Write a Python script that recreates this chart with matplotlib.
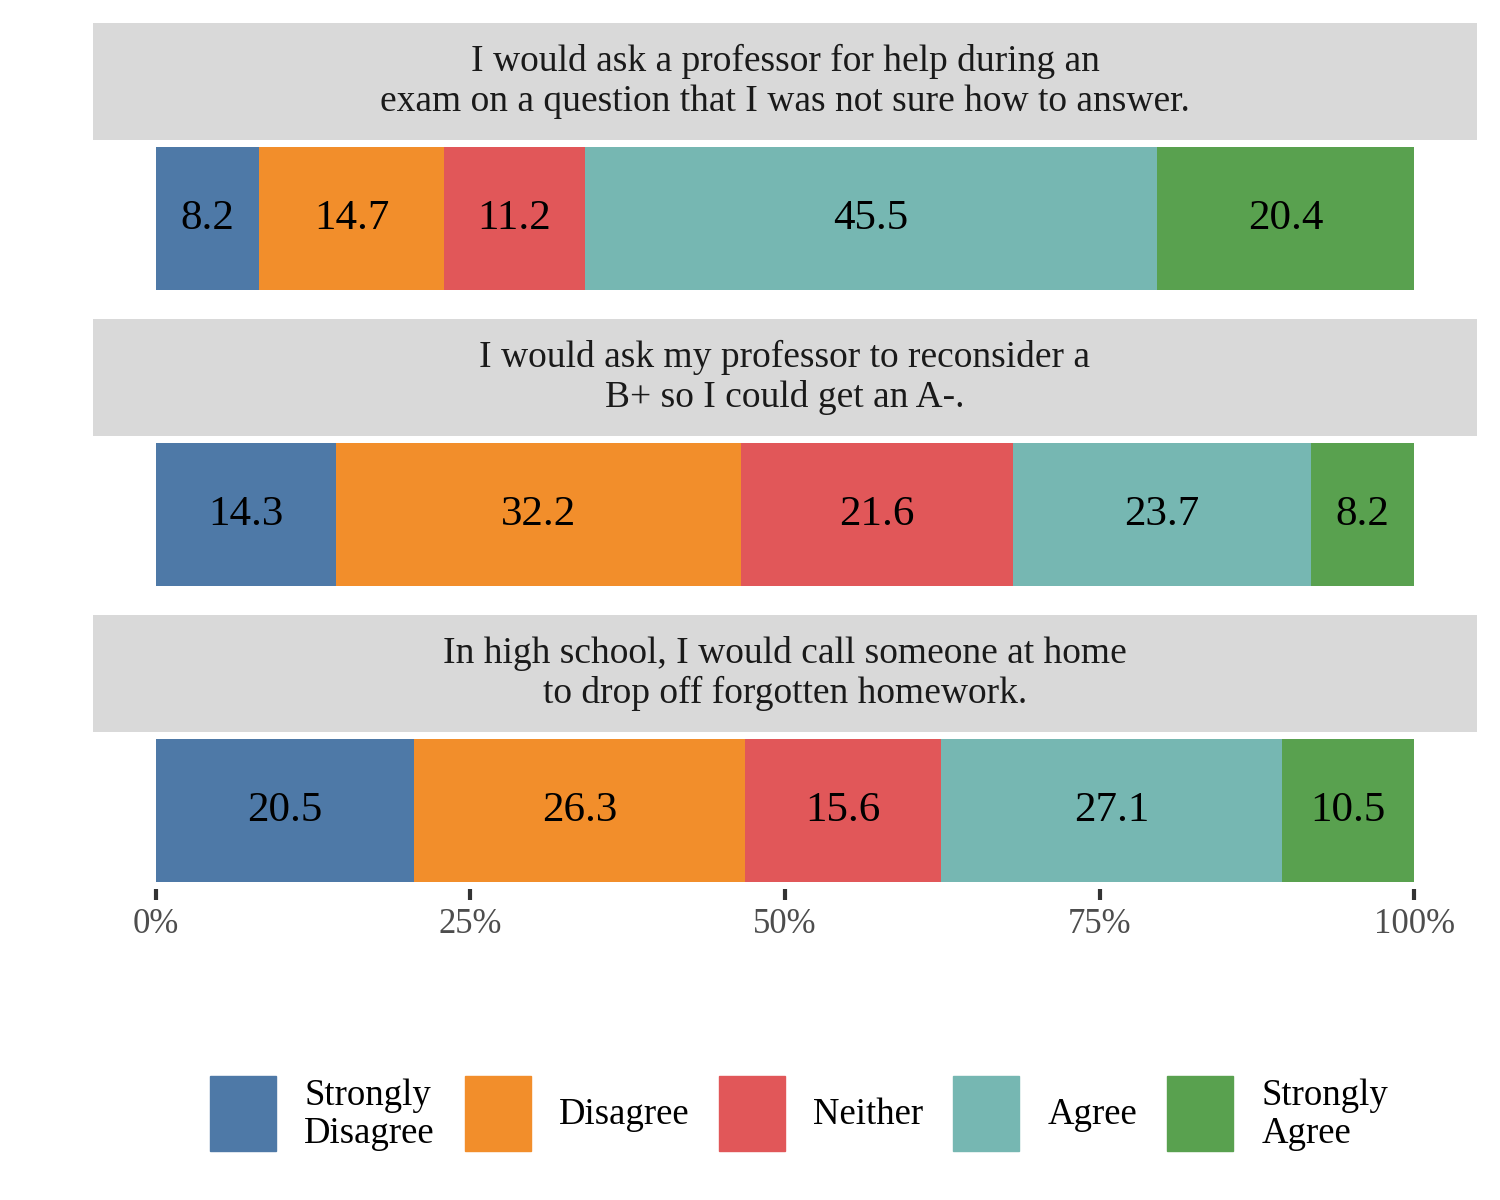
import numpy as np
import matplotlib
matplotlib.use('Agg')
import matplotlib.pyplot as plt
from matplotlib.patches import Rectangle

plt.rcParams['font.family'] = ['Liberation Serif', 'DejaVu Serif']

questions = ['I would ask a professor for help during an\nexam on a question that I was not sure how to answer.',
             'I would ask my professor to reconsider a\nB+ so I could get an A-.',
             'In high school, I would call someone at home\nto drop off forgotten homework.']
responses = ['Strongly\nDisagree', 'Disagree', 'Neither', 'Agree', 'Strongly\nAgree']
colors = ['#4e79a7', '#f28e2b', '#e15759', '#76b7b2', '#59a14f']

q1 = [8.2, 14.7, 11.2, 45.5, 20.4]
q2 = [14.3, 32.2, 21.6, 23.7, 8.2]
q3 = [20.5, 26.3, 15.6, 27.1, 10.5]
values = [q1, q2, q3]

ticks = [0, 25, 50, 75, 100]
tick_labels = ['0%', '25%', '50%', '75%', '100%']

W, H = 1500, 1200
fig = plt.figure(figsize=(15, 12), dpi=100)

def px_axes(x0, y0, x1, y1):
    return fig.add_axes([x0 / W, 1 - y1 / H, (x1 - x0) / W, (y1 - y0) / H])

left, right = 93, 1477
for i, (q, vals) in enumerate(zip(questions, values)):
    top = 23 + i * 296
    sbot = top + 117
    pbot = sbot + 157

    # strip
    sax = px_axes(left, top, right, sbot)
    sax.set_facecolor('#d9d9d9')
    sax.set_xticks([])
    sax.set_yticks([])
    for s in sax.spines.values():
        s.set_visible(False)
    sax.text(0.5, 0.5, q, ha='center', va='center', fontsize=27, color='#1a1a1a',
             linespacing=1.2, transform=sax.transAxes)

    # panel
    ax = px_axes(left, sbot, right, pbot)
    starts = np.concatenate([[0], np.cumsum(vals)[:-1]])
    ax.barh(0, vals, left=starts, height=1.0, color=colors)
    for s, v in zip(starts, vals):
        ax.text(s + v / 2, 0, f'{v:.1f}', ha='center', va='center', fontsize=31, color='black')
    ax.set_xlim(-5, 105)
    ax.set_ylim(-0.55, 0.55)
    ax.set_yticks([])
    for s in ax.spines.values():
        s.set_visible(False)
    if i == 2:
        ax.set_xticks(ticks)
        ax.set_xticklabels(tick_labels, fontsize=25, color='#4d4d4d')
        ax.tick_params(axis='x', length=8, width=3, color='#333333', pad=6)
    else:
        ax.set_xticks([])

# legend
renderer = fig.canvas.get_renderer()
key_w, key_h = 66, 75
gap_key, gap_item = 28, 30
texts = []
widths = []
for r in responses:
    t = fig.text(0, 0, r, fontsize=26.5, va='center', ha='left', linespacing=1.15, color='black')
    texts.append(t)
    widths.append(t.get_window_extent(renderer).width)
total = sum(key_w + gap_key + w for w in widths) + gap_item * (len(widths) - 1)
x = 799 - total / 2
yc = 1115
for t, w, c in zip(texts, widths, colors):
    fig.patches.append(Rectangle((x / W, 1 - (1113 + key_h / 2) / H), key_w / W, key_h / H,
                                 transform=fig.transFigure, color=c))
    t.set_position(((x + key_w + gap_key) / W, 1 - yc / H))
    x += key_w + gap_key + w + gap_item

fig.savefig('out.png', dpi=100)
